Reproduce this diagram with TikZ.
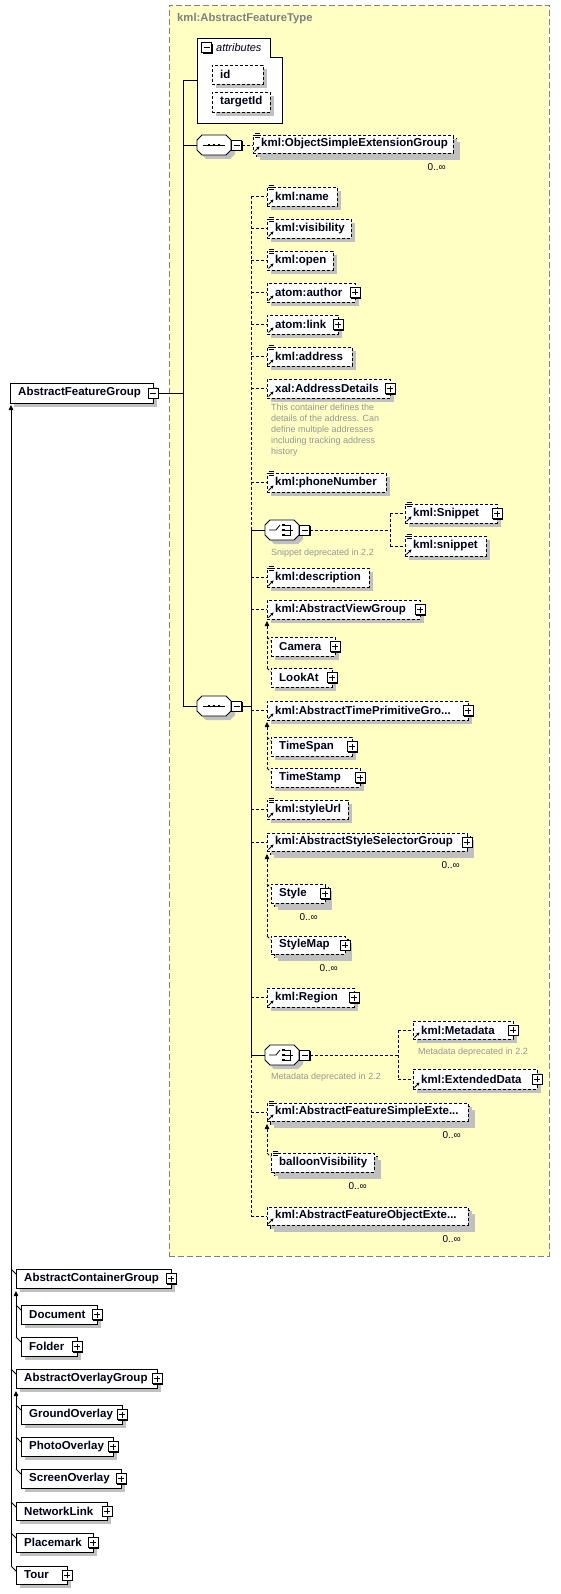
\documentclass[tikz,border=0pt]{standalone}
\usepackage{fontspec}
\setmainfont{Liberation Sans}
\usetikzlibrary{fit,shadows,arrows.meta,calc}
\definecolor{ybg}{RGB}{255,255,196}
\definecolor{ybd}{RGB}{128,128,128}
\definecolor{shd}{RGB}{192,192,192}
\definecolor{ann}{RGB}{150,150,150}
\definecolor{txt}{RGB}{0,0,24}
\tikzset{
  gshadow/.style={drop shadow={shadow xshift=4pt, shadow yshift=-4pt, fill=shd, opacity=1, shadow scale=1}},
  base/.style={inner sep=0pt, outer sep=0pt, fill=white, draw=black, line width=0.8pt},
  dbox/.style={base, dash pattern=on 3pt off 2pt, gshadow},
  sbox/.style={base, gshadow},
  lbl/.style={inner sep=0pt, font=\fontsize{11.5}{13}\selectfont\bfseries, text=txt},
  lblit/.style={inner sep=0pt, font=\fontsize{11}{13}\selectfont\itshape, text=txt},
  ttl/.style={inner sep=0pt, font=\fontsize{11.3}{13}\selectfont\bfseries, text=ybd},
  occ/.style={inner sep=0pt, font=\fontsize{10}{12}\selectfont, text=txt},
  anntxt/.style={inner sep=0pt, font=\fontsize{9}{11}\selectfont, text=ann, align=left},
  ftbox/.style={inner sep=0pt, fill=ybg, draw=ybd, dash pattern=on 6pt off 3pt, line width=0.8pt},
  pmbox/.style={draw=black, fill=white, line width=0.8pt, minimum size=10pt, inner sep=0pt, outer sep=0pt,
    drop shadow={shadow xshift=1.2pt, shadow yshift=-1.2pt, fill=black, opacity=1, shadow scale=1}},
  plus/.style={pmbox, path picture={\draw[line width=0.8pt]
    ([xshift=2pt]path picture bounding box.west) -- ([xshift=-2pt]path picture bounding box.east)
    ([yshift=-2pt]path picture bounding box.north) -- ([yshift=2pt]path picture bounding box.south);}},
  minus/.style={pmbox, path picture={\draw[line width=0.8pt]
    ([xshift=2pt]path picture bounding box.west) -- ([xshift=-2pt]path picture bounding box.east);}},
  octo/.style={draw=black, fill=white, line width=0.8pt, gshadow},
  conn/.style={draw=black, line width=0.8pt},
  dconn/.style={conn, dash pattern=on 3pt off 2pt},
  inh/.style={{Triangle[length=5pt,width=4.5pt]}-},
  icon/.style={draw=black, line width=0.7pt},
}
% box: name, style, x1, y1, x2, y2, text
\newcommand\BX[7]{%
  \node[#2, fit={(#3,#4)(#5,#6)}] (#1) {};
  \node[lbl, anchor=west] (#1-t) at ([xshift=8pt]#1.west) {#7};}
% multi-occurrence box
\newcommand\MBX[7]{%
  \node[#2, fit={(#3+3,#4+3)(#5+3,#6+3)}] (#1-b) {};
  \BX{#1}{#2}{#3}{#4}{#5}{#6}{#7}%
  \node[occ, anchor=east] (#1-o) at ([xshift=-10pt,yshift=-11pt]#1-b.south east) {0..∞};}
\newcommand\PL[1]{\node[plus] (#1-p) at (#1.east) {};}
\newcommand\MI[1]{\node[minus] (#1-m) at (#1.east) {};}
\newcommand\SI[1]{\draw[icon] ([shift={(1.5pt,2pt)}]#1.north west) -- +(5pt,0pt)
  ([shift={(1.5pt,0pt)}]#1.north west) -- +(5pt,0pt)
  ([shift={(1.5pt,-2pt)}]#1.north west) -- +(5pt,0pt);}
\newcommand\RA[1]{\draw[icon, line width=1pt, -{Stealth[length=3pt,width=3.2pt]}]
  ([shift={(1.5pt,1.5pt)}]#1.south west) -- +(5pt,5pt);}
% octagon: name, cx, cy
\newcommand\OCT[3]{%
  \node[inner sep=0pt, outer sep=0pt, minimum width=34pt, minimum height=20pt] (#1) at (#2,#3) {};
  \path[octo] ([xshift=5pt]#1.north west) -- ([xshift=-5pt]#1.north east) -- ([yshift=-5pt]#1.north east)
    -- ([yshift=5pt]#1.south east) -- ([xshift=-5pt]#1.south east) -- ([xshift=5pt]#1.south west)
    -- ([yshift=5pt]#1.south west) -- ([yshift=-5pt]#1.north west) -- cycle;
  \node[minus] (#1-m) at ([xshift=5.5pt]#1.east) {};}
\newcommand\SEQ[3]{\OCT{#1}{#2}{#3}%
  \draw[icon, line width=0.8pt] ([xshift=6pt]#1.west) -- ([xshift=-6pt]#1.east);
  \foreach \dx in {-5,0,5}{\fill ([xshift=\dx pt]#1.center) ++(-1.3pt,-1.3pt) rectangle ++(2.6pt,2.6pt);}}
\newcommand\CHO[3]{\OCT{#1}{#2}{#3}%
  \draw[icon, line width=0.8pt] ([xshift=-13pt]#1.center) -- ([xshift=-6pt]#1.center) -- ([shift={(-2pt,5pt)}]#1.center);
  \foreach \dy in {-5,0,5}{\fill ([shift={(1.5pt,\dy pt)}]#1.center) ++(-1.3pt,-1.3pt) rectangle ++(2.6pt,2.6pt);}
  \draw[icon, line width=0.8pt] ([shift={(3pt,5pt)}]#1.center) -- ([shift={(8pt,5pt)}]#1.center) -- ([shift={(8pt,-5pt)}]#1.center) -- ([shift={(3pt,-5pt)}]#1.center)
    ([shift={(3pt,0pt)}]#1.center) -- ([shift={(11pt,0pt)}]#1.center);}
\begin{document}
\begin{tikzpicture}[x=1pt,y=-1pt]
\useasboundingbox (0,0) rectangle (560,1594);
% ---------- complex type frame ----------
\node[ftbox, fit={(169,5)(549,1256)}] (ft) {};
\node[ttl, anchor=west] (ft-t) at (177,19) {kml:AbstractFeatureType};
% ---------- attributes ----------
\node[inner sep=0pt, outer sep=0pt, fit={(197,38)(282,123)}] (attr) {};
\path[draw=black, fill=white, line width=0.8pt] (attr.north west) -- ([xshift=-12pt]attr.north east)
  -- ([xshift=-12pt,yshift=-19pt]attr.north east) -- ([yshift=-19pt]attr.north east)
  -- (attr.south east) -- (attr.south west) -- cycle;
\node[minus] (attr-m) at (206.5,47.5) {};
\node[lblit, anchor=west] (attr-t) at (216,48) {attributes};
\BX{id}{dbox}{212}{65}{263}{84}{id}
\BX{tid}{dbox}{212}{92}{270}{112}{targetId}
% ---------- root group ----------
\BX{afg}{sbox}{10}{383}{153}{403}{AbstractFeatureGroup}
\MI{afg}
% ---------- sequence 1 ----------
\SEQ{s1}{214}{145}
\MBX{ose}{dbox}{253}{135}{453}{153}{kml:ObjectSimpleExtensionGroup}
\SI{ose}\RA{ose}
% ---------- sequence 2 ----------
\SEQ{s2}{214}{706}
\BX{nm}{dbox}{267}{187}{337}{206}{kml:name}\SI{nm}\RA{nm}
\BX{vis}{dbox}{267}{219}{351}{238}{kml:visibility}\SI{vis}\RA{vis}
\BX{opn}{dbox}{267}{251}{333}{270}{kml:open}\SI{opn}\RA{opn}
\BX{aut}{dbox}{267}{283}{355}{302}{atom:author}\RA{aut}\PL{aut}
\BX{lnk}{dbox}{267}{315}{338}{334}{atom:link}\RA{lnk}\PL{lnk}
\BX{adr}{dbox}{267}{347}{352}{366}{kml:address}\SI{adr}\RA{adr}
\BX{xad}{dbox}{267}{379}{390}{398}{xal:AddressDetails}\RA{xad}\PL{xad}
\node[anntxt, anchor=north west] (xad-d) at (271,404) {This container defines the\\details of the address. Can\\define multiple addresses\\including tracking address\\history};
\BX{phn}{dbox}{267}{473}{386}{492}{kml:phoneNumber}\SI{phn}\RA{phn}
\CHO{ch1}{282}{530}
\node[anntxt, anchor=west] (ch1-d) at (271,553) {Snippet deprecated in 2.2};
\BX{snU}{dbox}{405}{504}{497}{523}{kml:Snippet}\SI{snU}\RA{snU}\PL{snU}
\BX{snL}{dbox}{405}{536}{486}{556}{kml:snippet}\SI{snL}\RA{snL}
\BX{dsc}{dbox}{267}{568}{369}{587}{kml:description}\SI{dsc}\RA{dsc}
\BX{avg}{dbox}{267}{600}{420}{619}{kml:AbstractViewGroup}\RA{avg}\PL{avg}
\BX{cam}{dbox}{271}{637}{335}{656}{Camera}\PL{cam}
\BX{lka}{dbox}{271}{668}{332}{687}{LookAt}\PL{lka}
\BX{atp}{dbox}{267}{701}{468}{720}{kml:AbstractTimePrimitiveGro...}\RA{atp}\PL{atp}
\BX{tsp}{dbox}{271}{737}{352}{756}{TimeSpan}\PL{tsp}
\BX{tst}{dbox}{271}{768}{360}{787}{TimeStamp}\PL{tst}
\BX{sty}{dbox}{267}{800}{348}{819}{kml:styleUrl}\SI{sty}\RA{sty}
\MBX{ass}{dbox}{267}{833}{467}{851}{kml:AbstractStyleSelectorGroup}\RA{ass}\PL{ass}
\MBX{stl}{dbox}{271}{884}{325}{903}{Style}\PL{stl}
\MBX{stm}{dbox}{271}{936}{345}{954}{StyleMap}\PL{stm}
\BX{reg}{dbox}{267}{988}{354}{1007}{kml:Region}\RA{reg}\PL{reg}
\CHO{ch2}{282}{1055}
\node[anntxt, anchor=west] (ch2-d) at (271,1077) {Metadata deprecated in 2.2};
\BX{mtd}{dbox}{413}{1021}{513}{1039}{kml:Metadata}\RA{mtd}\PL{mtd}
\node[anntxt, anchor=west] (mtd-d) at (418,1052) {Metadata deprecated in 2.2};
\BX{exd}{dbox}{413}{1069}{537}{1089}{kml:ExtendedData}\RA{exd}\PL{exd}
\MBX{fse}{dbox}{267}{1103}{468}{1121}{kml:AbstractFeatureSimpleExte...}\SI{fse}\RA{fse}
\MBX{blv}{dbox}{271}{1153}{374}{1172}{balloonVisibility}\SI{blv}
\MBX{foe}{dbox}{267}{1207}{468}{1225}{kml:AbstractFeatureObjectExte...}\RA{foe}
% ---------- substitution group members ----------
\BX{acg}{sbox}{16}{1269}{171}{1288}{AbstractContainerGroup}\PL{acg}
\BX{doc}{sbox}{21}{1305}{97}{1324}{Document}\PL{doc}
\BX{fld}{sbox}{21}{1337}{77}{1356}{Folder}\PL{fld}
\BX{aog}{sbox}{16}{1369}{157}{1388}{AbstractOverlayGroup}\PL{aog}
\BX{gro}{sbox}{21}{1405}{122}{1424}{GroundOverlay}\PL{gro}
\BX{pho}{sbox}{21}{1437}{113}{1456}{PhotoOverlay}\PL{pho}
\BX{scr}{sbox}{21}{1469}{121}{1488}{ScreenOverlay}\PL{scr}
\BX{nwl}{sbox}{16}{1502}{107}{1520}{NetworkLink}\PL{nwl}
\BX{plm}{sbox}{16}{1533}{93}{1552}{Placemark}\PL{plm}
\BX{tour}{sbox}{16}{1566}{67}{1584}{Tour}\PL{tour}
% ---------- connectors: main tree ----------
\coordinate (v1) at (183,80);
\draw[conn] (afg-m.east) -- (afg-m.east -| v1);
\draw[conn] (v1) -- (v1 |- s2.west);
\draw[conn] (v1) -- (v1 -| attr.west);
\draw[conn] (v1 |- s1.west) -- (s1.west);
\draw[conn] (v1 |- s2.west) -- (s2.west);
\draw[dconn] (s1-m.east) -- (s1-m.east -| ose.west);
% ---------- connectors: sequence 2 ----------
\coordinate (v2) at (251,197);
\draw[dconn] (v2 |- nm.west) -- (v2 |- ch1.west);
\draw[conn] (v2 |- ch1.west) -- (v2 |- ch2.west);
\draw[dconn] (v2 |- ch2.west) -- (v2 |- foe.west);
\draw[conn] (s2-m.east) -- (v2 |- s2-m.east);
\foreach \n in {nm,vis,opn,aut,lnk,adr,xad,phn,dsc,avg,atp,sty,ass,reg,fse,foe}
  {\draw[dconn] (v2 |- \n.west) -- (\n.west);}
\draw[conn] (v2 |- ch1.west) -- (ch1.west);
\draw[conn] (v2 |- ch2.west) -- (ch2.west);
% choice 1
\coordinate (v3) at (390,530);
\draw[dconn] (ch1-m.east) -- (v3 |- ch1-m.east);
\draw[dconn] (v3 |- snU.west) -- (v3 |- snL.west);
\draw[dconn] (v3 |- snU.west) -- (snU.west);
\draw[dconn] (v3 |- snL.west) -- (snL.west);
% choice 2
\coordinate (v4) at (398,1055);
\draw[dconn] (ch2-m.east) -- (v4 |- ch2-m.east);
\draw[dconn] (v4 |- mtd.west) -- (v4 |- exd.west);
\draw[dconn] (v4 |- mtd.west) -- (mtd.west);
\draw[dconn] (v4 |- exd.west) -- (exd.west);
% substitution groups inside the type
\draw[dconn, inh] ([yshift=-2pt]avg.south west) -- (avg.south west |- lka.north);
\foreach \c in {cam,lka}{\draw[dconn] (avg.south west |- \c.north) -- ([yshift=-4pt]\c.north west);}
\draw[dconn, inh] ([yshift=-2pt]atp.south west) -- (atp.south west |- tst.north);
\foreach \c in {tsp,tst}{\draw[dconn] (atp.south west |- \c.north) -- ([yshift=-4pt]\c.north west);}
\draw[dconn, inh] ([yshift=-3pt]ass.south west) -- (ass.south west |- stm.north);
\foreach \c in {stl,stm}{\draw[dconn] (ass.south west |- \c.north) -- ([yshift=-4pt]\c.north west);}
\draw[dconn, inh] ([yshift=-3pt]fse.south west) -- (fse.south west |- blv.north);
\draw[dconn] (fse.south west |- blv.north) -- ([yshift=-4pt]blv.north west);
% ---------- connectors: substitution tree ----------
\coordinate (lv) at (11,405);
\draw[conn, inh] (lv) -- (lv |- tour.north);
\foreach \c in {acg,aog,nwl,plm,tour}{\draw[conn] (lv |- \c.north) -- ([yshift=-5pt]\c.north west);}
\draw[conn, inh] ([yshift=-3pt]acg.south west) -- (acg.south west |- fld.north);
\foreach \c in {doc,fld}{\draw[conn] (acg.south west |- \c.north) -- ([yshift=-5pt]\c.north west);}
\draw[conn, inh] ([yshift=-3pt]aog.south west) -- (aog.south west |- scr.north);
\foreach \c in {gro,pho,scr}{\draw[conn] (aog.south west |- \c.north) -- ([yshift=-5pt]\c.north west);}
\end{tikzpicture}
\end{document}
